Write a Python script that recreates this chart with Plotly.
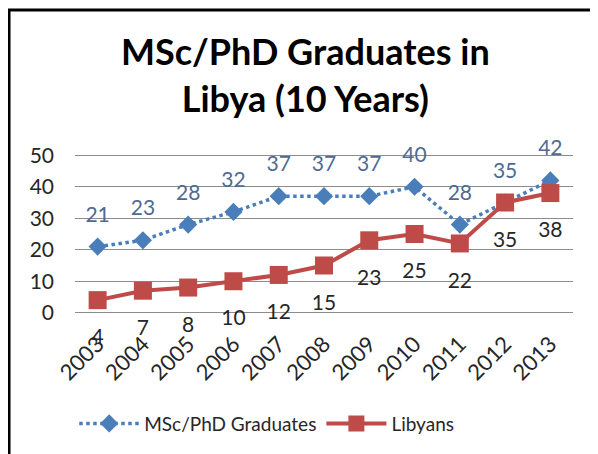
import plotly.graph_objects as go

years = ["2003", "2004", "2005", "2006", "2007", "2008", "2009", "2010", "2011", "2012", "2013"]
graduates = [21, 23, 28, 32, 37, 37, 37, 40, 28, 35, 42]
libyans = [4, 7, 8, 10, 12, 15, 23, 25, 22, 35, 38]

FONT = "Lato, 'Open Sans', sans-serif"
BLUE = "#4A7EBB"
RED = "#BE4B48"

fig = go.Figure()
fig.add_trace(go.Scatter(
    x=years, y=graduates, name="MSc/PhD Graduates",
    mode="lines+markers",
    line=dict(color=BLUE, width=3.5, dash="dot"),
    marker=dict(symbol="diamond", size=14, color=BLUE),
    cliponaxis=False,
))
fig.add_trace(go.Scatter(
    x=years, y=libyans, name="Libyans",
    mode="lines+markers",
    line=dict(color=RED, width=4),
    marker=dict(symbol="square", size=18, color=RED),
    cliponaxis=False,
))
# data labels (transparent markers only to set label offset)
fig.add_trace(go.Scatter(
    x=years, y=graduates, mode="markers+text", showlegend=False, hoverinfo="skip",
    marker=dict(size=30, color="rgba(0,0,0,0)"),
    text=[str(v) for v in graduates], textposition="top center",
    textfont=dict(size=21, color="#4E6A93", family=FONT), cliponaxis=False,
))
fig.add_trace(go.Scatter(
    x=years, y=libyans, mode="markers+text", showlegend=False, hoverinfo="skip",
    marker=dict(size=44, color="rgba(0,0,0,0)"),
    text=[str(v) for v in libyans], textposition="bottom center",
    textfont=dict(size=21, color="#262626", family=FONT), cliponaxis=False,
))

fig.update_layout(
    width=598, height=454,
    margin=dict(l=67, r=33, t=146, b=148, autoexpand=False),
    paper_bgcolor="white", plot_bgcolor="white",
    font=dict(family=FONT, size=21, color="#262626"),
    showlegend=True,
    legend=dict(orientation="h", x=0.385, xanchor="center", y=-0.685, yanchor="middle",
                font=dict(size=19, color="#262626"), itemwidth=60),
    xaxis=dict(type="category", range=[-0.5, 10.5], tickangle=-45, showgrid=False, zeroline=False,
               automargin=False, showline=False, ticks="", tickfont=dict(size=22, color="#262626"),
               ticklabelstandoff=12),
    yaxis=dict(range=[-0.4, 50.4], tickvals=[0, 10, 20, 30, 40, 50], showgrid=True,
               gridcolor="#8C8C8C", gridwidth=1, automargin=False,
               zeroline=False, showline=False, ticks="", tickfont=dict(size=21, color="#262626"),
               ticklabelstandoff=20),
    annotations=[dict(text="<b>MSc/PhD Graduates in<br>Libya (10 Years)</b>",
                      xref="paper", yref="paper", x=0.462, y=1.5, xanchor="center", yanchor="middle",
                      showarrow=False, font=dict(size=36, color="#000000", family=FONT))],
    shapes=[dict(type="rect", xref="paper", yref="paper", x0=-0.1325, x1=1.2, y0=-1.1, y1=1.9,
                 line=dict(color="black", width=3), fillcolor="rgba(0,0,0,0)", layer="above")],
)

fig.write_html("out.html")
